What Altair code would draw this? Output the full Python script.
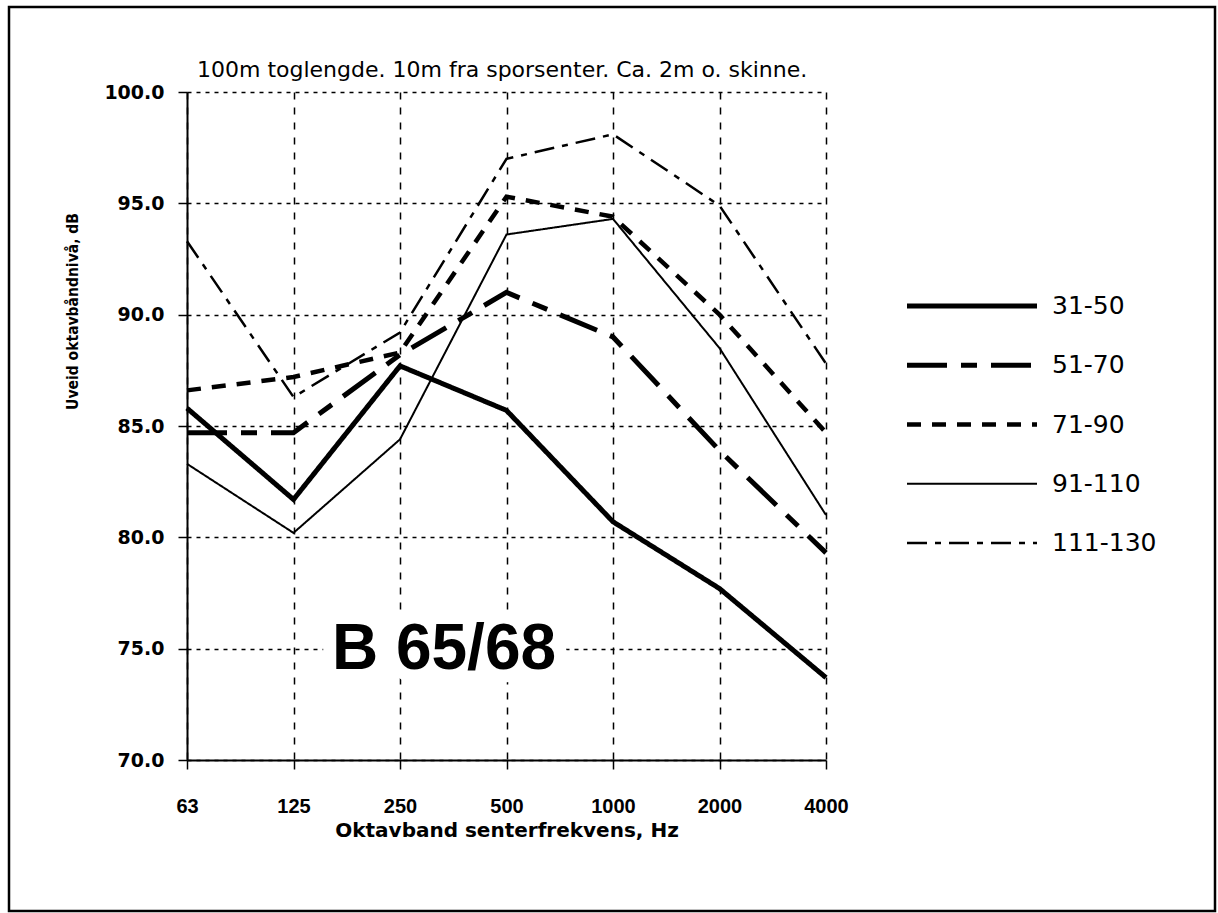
import altair as alt
import pandas as pd

# ---- data ----
freqs = ["63", "125", "250", "500", "1000", "2000", "4000"]
series_names = ["31-50", "51-70", "71-90", "91-110", "111-130"]
lvl_31_50 = [85.8, 81.7, 87.7, 85.7, 80.7, 77.7, 73.7]
lvl_51_70 = [84.7, 84.7, 88.2, 91.0, 89.0, 83.9, 79.3]
lvl_71_90 = [86.6, 87.2, 88.3, 95.3, 94.4, 90.0, 84.7]
lvl_91_110 = [83.3, 80.2, 84.4, 93.6, 94.3, 88.5, 81.0]
lvl_111_130 = [93.3, 86.3, 89.2, 97.0, 98.1, 94.9, 87.8]
y_ticks = [70, 75, 80, 85, 90, 95, 100]

title_text = ["100m toglengde. 10m fra sporsenter. Ca. 2m o. skinne."]
y_title = "Uveid oktavbåndnivå, dB"
x_title = "Oktavband senterfrekvens, Hz"
annot_text = ["B 65/68"]
annot_freq = ["250"]
annot_level = [74.1]

# ---- styles ----
series_dash = [[1, 0], [40, 14, 16, 14], [14, 11], [1, 0], [20, 8, 6, 8]]
series_width = [5.0, 5.0, 4.5, 2.0, 2.5]

series_values = [lvl_31_50, lvl_51_70, lvl_71_90, lvl_91_110, lvl_111_130]
rows = []
for name, vals, w in zip(series_names, series_values, series_width):
    for f, v in zip(freqs, vals):
        rows.append({"freq": f, "level": v, "series": name, "width": w})
df = pd.DataFrame(rows)

dash_scale = alt.Scale(domain=series_names, range=series_dash)

x_enc = alt.X(
    "freq:N",
    sort=freqs,
    scale=alt.Scale(type="point", padding=0, domain=freqs),
    title=x_title,
    axis=alt.Axis(
        labelAngle=0,
        labelFont="Liberation Sans",
        labelFontWeight="bold",
        labelFontSize=20,
        labelColor="black",
        labelPadding=27,
        tickSize=9,
        tickColor="black",
        tickWidth=1.5,
        domainColor="black",
        domainWidth=2,
        grid=True,
        gridColor="black",
        gridDash=[7, 8],
        gridWidth=1.5,
        gridOpacity=1,
        titleFont="DejaVu Sans",
        titleFontWeight="bold",
        titleFontSize=20,
        titleColor="black",
        titleY=70,
        titleBaseline="middle",
    ),
)

y_enc = alt.Y(
    "level:Q",
    scale=alt.Scale(domain=[70, 100], nice=False, zero=False),
    title=y_title,
    axis=alt.Axis(
        values=y_ticks,
        format=".1f",
        labelFont="DejaVu Sans",
        labelFontWeight="bold",
        labelFontSize=19,
        labelColor="black",
        labelPadding=14,
        tickSize=9,
        tickColor="black",
        tickWidth=1.5,
        domainColor="black",
        domainWidth=2,
        grid=True,
        gridColor="black",
        gridDash=[4, 5],
        gridWidth=1.5,
        gridOpacity=1,
        titleFont="DejaVu Sans Condensed, Liberation Sans Narrow, Liberation Sans",
        titleFontWeight="bold",
        titleFontSize=15.5,
        titleColor="black",
        titleAngle=270,
        titleX=-115,
        titleY=219,
        titleAlign="center",
        titleBaseline="middle",
    ),
)

lines = alt.Chart(df).mark_line(color="black", strokeCap="butt").encode(
    x=x_enc,
    y=y_enc,
    strokeDash=alt.StrokeDash("series:N", scale=dash_scale, legend=None),
    strokeWidth=alt.StrokeWidth("width:Q", scale=None, legend=None),
    detail="series:N",
)

annot_df = pd.DataFrame({"freq": annot_freq, "level": annot_level, "label": annot_text})
annot_bg = alt.Chart(annot_df).mark_text(
    font="Liberation Sans", fontSize=64, fontWeight="bold", dx=44,
    baseline="alphabetic", fill="white", stroke="white", strokeWidth=26,
    strokeJoin="round",
).encode(x=x_enc, y=y_enc, text="label:N")
annot_fg = alt.Chart(annot_df).mark_text(
    font="Liberation Sans", fontSize=64, fontWeight="bold", dx=44,
    baseline="alphabetic", color="black",
).encode(x=x_enc, y=y_enc, text="label:N")

# ---- legend drawn as its own layer ----
leg_df = pd.DataFrame({"series": series_names, "width": series_width})
leg_y = alt.Y(
    "series:N",
    sort=series_names,
    scale=alt.Scale(type="point", domain=series_names, range=[214, 451], padding=0),
    axis=None,
)
leg_rules = alt.Chart(leg_df).mark_rule(color="black", strokeCap="butt").encode(
    x=alt.value(720),
    x2=alt.value(850),
    y=leg_y,
    strokeDash=alt.StrokeDash("series:N", scale=dash_scale, legend=None),
    strokeWidth=alt.StrokeWidth("width:Q", scale=None, legend=None),
)
leg_text = alt.Chart(leg_df).mark_text(
    align="left", baseline="middle", font="DejaVu Sans", fontSize=25, color="black"
).encode(x=alt.value(865), y=leg_y, text="series:N")

# ---- chart title (as text) and outer frame ----
title_df = pd.DataFrame({"t": title_text})
title_mark = alt.Chart(title_df).mark_text(
    align="left", baseline="alphabetic", font="DejaVu Sans", fontSize=22, color="black"
).encode(x=alt.value(10), y=alt.value(-15), text="t:N")

frame = alt.Chart(pd.DataFrame({"a": [0]})).mark_rect(
    filled=False, stroke="black", strokeWidth=2.5
).encode(x=alt.value(-178), x2=alt.value(1028), y=alt.value(-85), y2=alt.value(819))

main = alt.layer(lines, annot_bg, annot_fg)
legend = alt.layer(leg_rules, leg_text)

chart = (
    alt.layer(frame, title_mark, main, legend)
    .resolve_scale(y="independent")
    .properties(
        width=639,
        height=668,
        autosize=alt.AutoSizeParams(type="none"),
        padding={"left": 187, "top": 92, "right": 392, "bottom": 153},
        background="white",
    )
    .configure_view(stroke=None)
)

chart.save("out.html", embed_options={"renderer": "svg", "actions": False})
